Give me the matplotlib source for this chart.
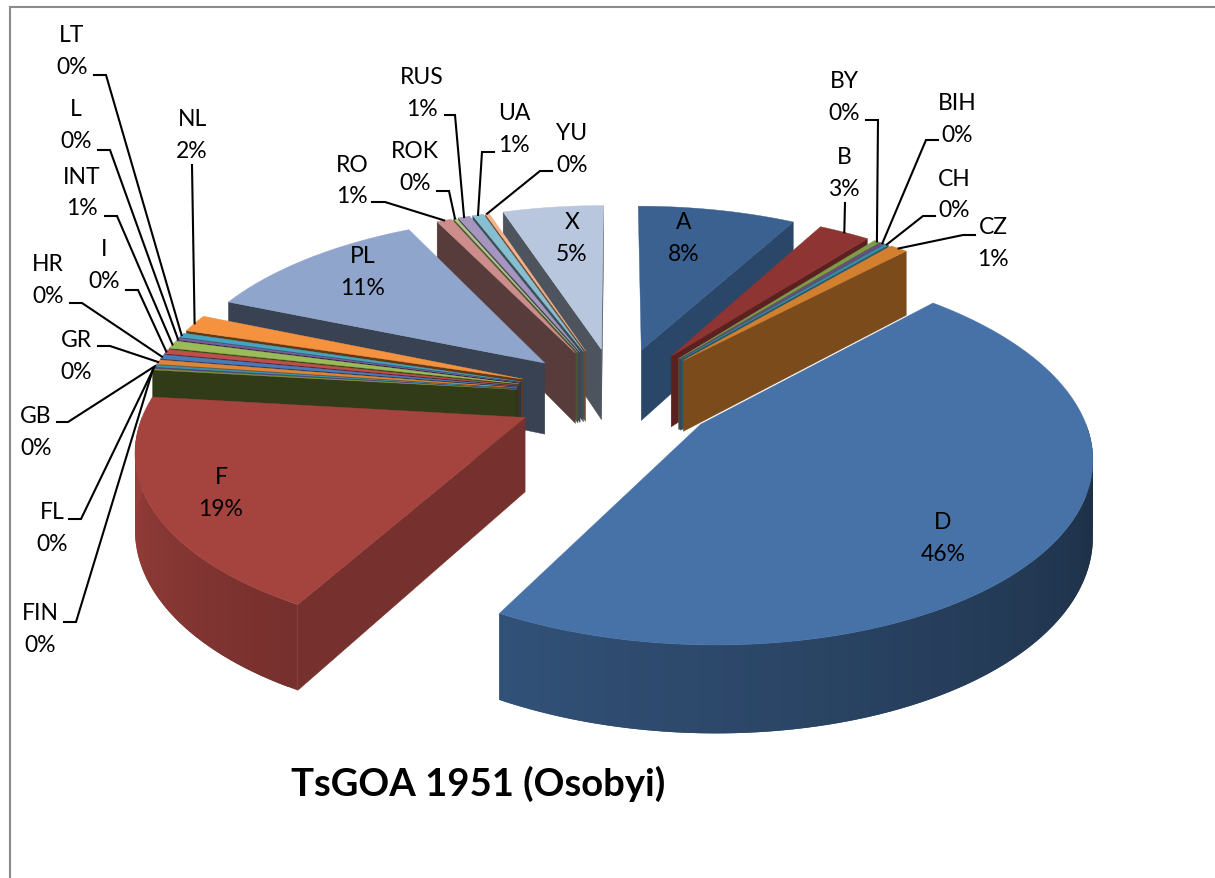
import numpy as np
import matplotlib
matplotlib.use("Agg")
import matplotlib.pyplot as plt
from matplotlib.patches import Polygon
from matplotlib.collections import PolyCollection
from matplotlib.colors import to_rgb

# ---- data ----
categories = ["A","B","BY","BIH","CH","CZ","D","F","FIN","FL","GB","GR","HR","I","INT",
              "L","LT","NL","PL","RO","ROK","RUS","UA","YU","X"]
values = [8.0,2.6,0.3,0.2,0.2,0.9,45.8,18.8,0.1,0.1,0.2,0.4,0.4,0.4,0.7,
          0.2,0.4,1.55,11.4,0.75,0.15,0.6,0.55,0.2,5.1]
colors = ["#3A6190","#8E3432","#7F9A48","#664F85","#3A8CA2","#D2802F",
          "#4672A8","#A5433F","#80993F","#5F4A7F","#3B90A8","#E08535","#4A7ABB","#BE4F4B",
          "#9BBB59","#7A5F9F","#45A5BF","#F59240",
          "#8FA5CC","#CD8E8B","#AFC684","#A595BF","#87BFD0","#F6B28B","#B9C7DE"]
title = "TsGOA 1951 (Osobyi)"

# ---- layout (pixels) ----
label_pos = {"LT":(72,36),"L":(76,110),"INT":(82,177),"I":(104,250),"HR":(48,265),"GR":(76,341),
             "GB":(36,417),"FL":(52,513),"FIN":(40,614),"NL":(192,119),"RO":(352,165),"ROK":(415,151),
             "RUS":(422,77),"UA":(514,113),"YU":(572,133),"X":(572,223),"PL":(363,257),"A":(684,223),
             "B":(844,157),"BY":(844,82),"BIH":(957,103),"CH":(954,179),"CZ":(993,228),"D":(943,523),"F":(221,478)}
leader_elbows = {"LT":[(94,76),(106,76)],"L":[(98,151),(110,151)],"INT":[(105,217),(117,217)],
                 "I":[(126,291),(138,291)],"HR":[(70,304),(82,304)],"GR":[(98,347),(110,347)],
                 "GB":[(57,423),(68,423)],"FL":[(69,520),(81,520)],"FIN":[(64,623),(76,623)],
                 "NL":[(192,166)],"RO":[(372,203),(385,203)],"ROK":[(437,192),(449,192)],
                 "RUS":[(445,116),(455,116)],"UA":[(494,153),(482,153)],"YU":[(552,172),(540,172)],
                 "B":[(845,204)],"BY":[(866,121),(878,121)],"BIH":[(938,141),(926,141)],
                 "CH":[(935,217),(923,217)],"CZ":[(975,236),(963,236)]}
CX, CY, F, A, K, H, EXPL = 617.0, 396.0, 376.0, 178.0, 0.15, 73.0, 0.27

def project(X, Y, z=0.0):
    s = 1 + K*np.asarray(Y)
    return CX + F*np.asarray(X)/s, CY + (-A*np.asarray(Y) + H*z)/s

def wall_factor_radial(th):
    return np.interp(th, [28,45,208,277,315,342], [.73,.58,.72,.38,.43,.42])
def wall_factor_outer(th):
    return np.interp(th, [90,208,270], [.38,.71,.94])
def shade(c, f):
    return tuple(np.clip(np.array(to_rgb(c))*f, 0, 1))

plt.rcParams['font.family'] = ['Lato', 'DejaVu Sans']
fig = plt.figure(figsize=(12.15, 8.79), dpi=100)
ax = fig.add_axes([0, 0, 1, 1])
ax.set_xlim(0, 1215); ax.set_ylim(879, 0); ax.axis("off")
ax.plot([9.5, 9.5, 1215], [879, 8, 8], color="#8A8A8A", lw=1.5, solid_joinstyle="miter", zorder=0)

vals = np.array(values, float)
cum = np.concatenate([[0], np.cumsum(vals)]) / vals.sum() * 360
slices = {}
for i, name in enumerate(categories):
    t0, t1 = cum[i], cum[i+1]
    mid = np.radians((t0+t1)/2)
    slices[name] = dict(i=i, t0=t0, t1=t1, ax=EXPL*np.sin(mid), ay=EXPL*np.cos(mid))

def rim(sl, th):
    r = np.radians(th)
    return sl["ax"] + np.sin(r), sl["ay"] + np.cos(r)

def radial_wall(sl, th, col, z):
    X, Y = rim(sl, th)
    pts = [project(sl["ax"], sl["ay"], 0), project(X, Y, 0), project(X, Y, 1), project(sl["ax"], sl["ay"], 1)]
    c = shade(col, wall_factor_radial(th))
    ax.add_patch(Polygon(pts, closed=True, fc=c, ec=c, lw=.3, zorder=z))

def draw_slice(name, z):
    sl = slices[name]; col = colors[sl["i"]]; t0, t1 = sl["t0"], sl["t1"]
    if np.sin(np.radians(t0)) < 0:
        radial_wall(sl, t0, col, z)
    if np.sin(np.radians(t1)) > 0:
        radial_wall(sl, t1, col, z)
    a, b = max(t0, 90), min(t1, 270)
    if b > a:
        ths = np.linspace(a, b, max(2, int((b-a)/1.5)+2))
        X, Y = rim(sl, ths)
        xt, yt = project(X, Y, 0); xb, yb = project(X, Y, 1)
        quads, cs = [], []
        m = len(ths)-1
        # each strip reaches over its neighbour, so no background shows through the joins
        for j in range(m):
            e = min(j+2, m)
            quads.append([(xt[j],yt[j]),(xt[j+1],yt[j+1]),(xt[e],yt[e]),(xb[e],yb[e]),(xb[j+1],yb[j+1]),(xb[j],yb[j])])
            cs.append(shade(col, wall_factor_outer((ths[j]+ths[j+1])/2)))
        ax.add_collection(PolyCollection(quads, facecolors=cs, edgecolors="none", linewidths=0, zorder=z))
    ths = np.linspace(t0, t1, max(2, int((t1-t0)/1.0)+2))
    X, Y = rim(sl, ths)
    xt, yt = project(X, Y, 0)
    ox, oy = project(sl["ax"], sl["ay"], 0)
    ax.add_patch(Polygon(np.vstack([[ox, oy], np.column_stack([xt, yt])]), closed=True,
                         fc=col, ec=col, lw=.3, zorder=z+.5))

n = len(categories)
iD = categories.index("D"); iF = categories.index("F")
order = list(range(n-1, iF-1, -1)) + list(range(0, iD+1))
for z, i in enumerate(order):
    draw_slice(categories[i], 2+z)

# labels & leader lines
total = vals.sum()
for i, name in enumerate(categories):
    x, y = label_pos[name]
    pct = f"{int(round(vals[i]/total*100))}%"
    ax.text(x, y, name, ha="center", va="center", fontsize=16.5, color="black", zorder=100)
    ax.text(x, y+32, pct, ha="center", va="center", fontsize=16.5, color="black", zorder=100)
    if name in leader_elbows:
        sl = slices[name]
        ex, ey = project(*rim(sl, (sl["t0"]+sl["t1"])/2), 0)
        pts = leader_elbows[name] + [(float(ex), float(ey))]
        ax.plot([p[0] for p in pts], [p[1] for p in pts], color="black", lw=1.5, zorder=90,
                solid_joinstyle="miter")

ax.text(478, 784, title, ha="center", va="center", fontsize=27.5, fontweight="bold", color="black", zorder=100)
fig.savefig("out.png", dpi=100)
